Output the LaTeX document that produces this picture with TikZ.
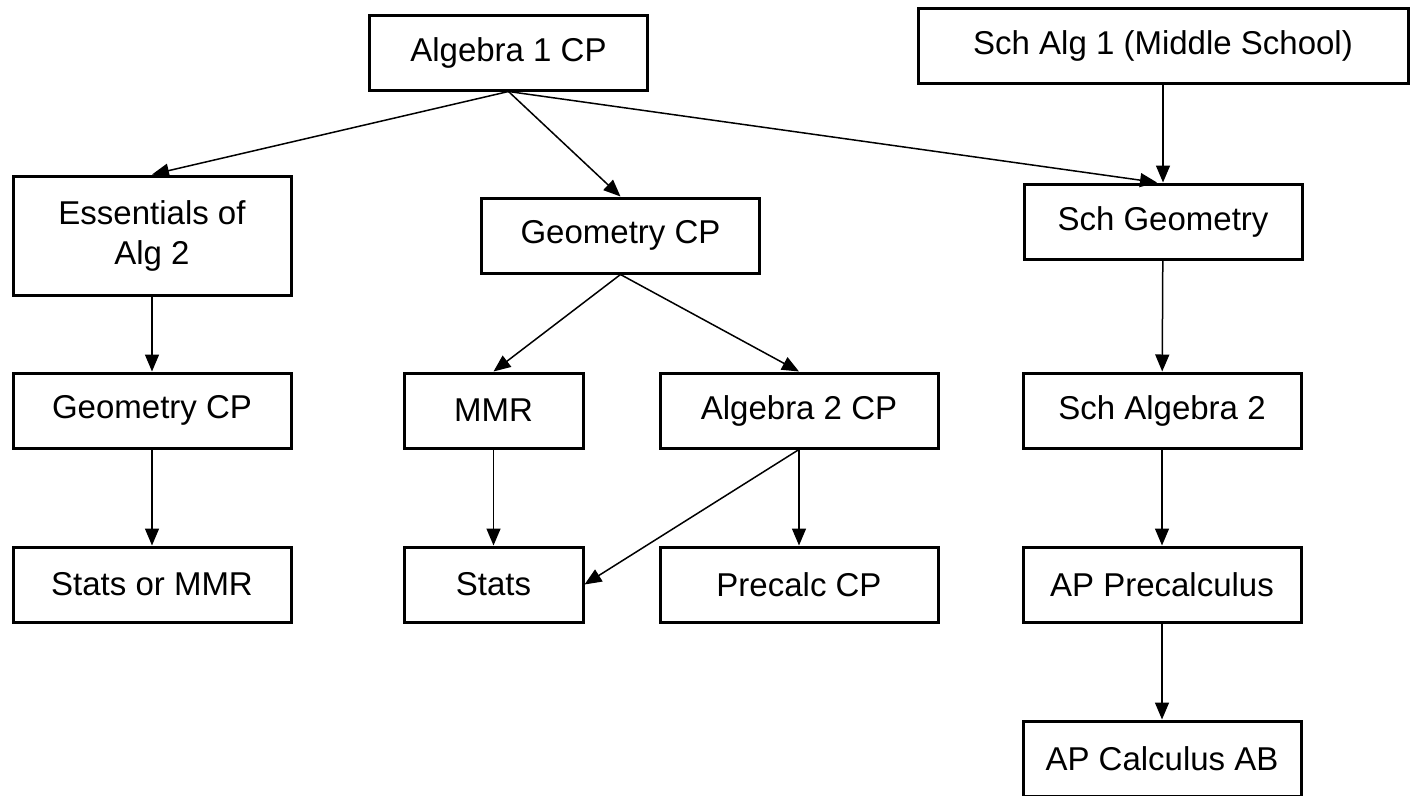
\documentclass[tikz,border=0pt]{standalone}
\usepackage{fontspec}
\setmainfont{Liberation Sans}
\usetikzlibrary{positioning,arrows.meta}

\begin{document}
\begin{tikzpicture}[x=1pt, y=-1pt, node distance=174pt,
                    course node/.style={rectangle,draw,line width=3pt,inner sep=0pt,
                      minimum width=278pt,minimum height=75pt,align=center,
                      font=\fontsize{33}{40}\selectfont},
                    short node/.style={course node,minimum width=179pt},
                    link/.style={-{Triangle[length=17pt,width=14pt]},line width=1.5pt}]
  \useasboundingbox (0,0) rectangle (1413,795);

  % top row
  \node[course node] (alg1) at (508.5,52.5) {Algebra 1 CP};
  \node[course node,minimum width=490pt] (schalg1) at (1163,45.5) {Sch Alg 1 (Middle School)};

  % second row
  \node[course node,minimum height=119pt] (essalg2) at (152,235.5) {Essentials of\\Alg 2};
  \node[course node] (geomcp) at (620.5,235.5) {Geometry CP};
  \node[course node] (schgeom) at (1163,221.5) {Sch Geometry};

  % third row
  \node[course node] (geomcpl) at (152,410.5) {Geometry CP};
  \node[short node] (mmr) at (493.5,410.5) {MMR};
  \node[course node] (alg2cp) at (799,410.5) {Algebra 2 CP};
  \node[course node] (schalg2) at (1162,410.5) {Sch Algebra 2};

  % fourth row
  \node[course node] (statsmmr) [below of=geomcpl] {Stats or MMR};
  \node[short node] (stats) [below of=mmr] {Stats};
  \node[course node] (precalc) [below of=alg2cp] {Precalc CP};
  \node[course node] (appre) [below of=schalg2] {AP Precalculus};
  \node[course node] (apcalc) [below of=appre] {AP Calculus AB};

  \path[link]
    (alg1.south) edge (essalg2.north)
    (alg1.south) edge (geomcp.north)
    (alg1.south) edge ([xshift=-6pt]schgeom.north)
    (schalg1) edge (schgeom)
    (essalg2) edge (geomcpl)
    (geomcpl) edge (statsmmr)
    (geomcp.south) edge (mmr.north)
    (geomcp.south) edge (alg2cp.north)
    (mmr) edge (stats)
    (alg2cp.south) edge (stats.east)
    (alg2cp) edge (precalc)
    (schgeom) edge (schalg2)
    (schalg2) edge (appre)
    (appre) edge (apcalc)
;
\end{tikzpicture}
\end{document}
